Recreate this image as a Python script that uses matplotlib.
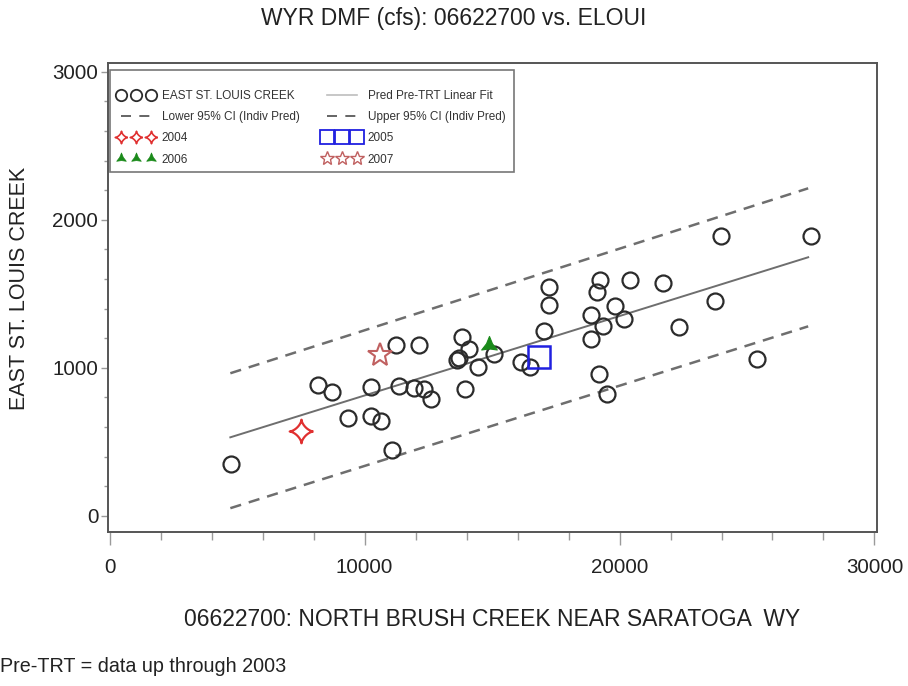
import numpy as np
import matplotlib
matplotlib.use("Agg")
import matplotlib.pyplot as plt
from matplotlib.path import Path
from matplotlib.lines import Line2D
from matplotlib.patches import Rectangle

# ---------------- data ----------------
east_x = [4760, 8170, 8720, 9330, 10260, 10260, 10640, 11080, 11230, 11360,
          12150, 11920, 12320, 12600, 13810, 14110, 13620, 13700, 14430, 15060,
          13950, 16140, 16470, 17050, 17220, 17220, 19250, 19120, 20420, 19810,
          20190, 18860, 19350, 18860, 19210, 19510, 23990, 27510, 21710, 23760,
          22320, 25390]
east_y = [348, 886, 836, 661, 870, 674, 641, 443, 1152, 875,
          1157, 866, 859, 787, 1208, 1125, 1051, 1064, 1005, 1096,
          859, 1039, 1005, 1249, 1427, 1546, 1591, 1512, 1591, 1416,
          1330, 1355, 1280, 1197, 961, 826, 1891, 1889, 1573, 1451,
          1276, 1062]

y2004_x, y2004_y = [7505], [571]
y2005_x, y2005_y = [16830], [1073]
y2006_x, y2006_y = [14870], [1152]
y2007_x, y2007_y = [10620], [1089]

fit_x = [4730, 27400]
fit_y = [530, 1747]
upper_y = [963, 2213]
lower_y = [51, 1280]

x_ticks = [0, 10000, 20000, 30000]
y_ticks = [0, 1000, 2000, 3000]

title = "WYR DMF (cfs): 06622700 vs. ELOUI"
xlabel = "06622700: NORTH BRUSH CREEK NEAR SARATOGA  WY"
ylabel = "EAST ST. LOUIS CREEK"
footer = "Pre-TRT = data up through 2003"
legend_col1 = ['EAST ST. LOUIS CREEK', 'Lower 95% CI (Indiv Pred)', '2004', '2006']
legend_col2 = ['Pred Pre-TRT Linear Fit', 'Upper 95% CI (Indiv Pred)', '2005', '2007']

# ---------------- fonts ----------------
plt.rcParams['font.family'] = ['Liberation Sans', 'DejaVu Sans']

# ---------------- custom markers ----------------
t = np.linspace(0, 2 * np.pi, 200)
astroid = Path(np.column_stack([np.cos(t) ** 3, np.sin(t) ** 3]))
ang = np.pi / 2 + np.arange(6) * np.pi / 3
rad = np.array([1.0, 0.38] * 3)
tri_star = Path(np.column_stack([rad * np.cos(ang), rad * np.sin(ang)]).tolist()
                + [[0, 1.0]], closed=True)

# ---------------- figure ----------------
W, H = 908, 686
fig = plt.figure(figsize=(W / 100, H / 100), dpi=100)
ax_l, ax_t, ax_r, ax_b = 108, 63, 877, 532
ax = fig.add_axes([ax_l / W, 1 - ax_b / H, (ax_r - ax_l) / W, (ax_b - ax_t) / H])
aw, ah = ax_r - ax_l, ax_b - ax_t


def axfrac(px, py):
    return ((px - ax_l) / aw, (ax_b - py) / ah)


gray = '#6e6e6e'
ax.plot(fit_x, fit_y, color=gray, lw=1.4, zorder=2)
ax.plot(fit_x, upper_y, color=gray, lw=1.8, ls=(0, (4.5, 3.2)), zorder=2)
ax.plot(fit_x, lower_y, color=gray, lw=1.8, ls=(0, (4.5, 3.2)), zorder=2)

ax.plot(east_x, east_y, ls='none', marker='o', ms=11.5, mfc='none',
        mec='#2b2b2b', mew=1.6, zorder=3)
ax.plot(y2004_x, y2004_y, ls='none', marker=astroid, ms=17, mfc='none',
        mec='#e03030', mew=1.6, zorder=4)
ax.plot(y2005_x, y2005_y, ls='none', marker='s', ms=16.5, mfc='none',
        mec='#2020e0', mew=1.8, zorder=4)
ax.plot(y2006_x, y2006_y, ls='none', marker=tri_star, ms=13, mfc='#1a8a1a',
        mec='#1a8a1a', mew=0.8, zorder=4)
ax.plot(y2007_x, y2007_y, ls='none', marker='*', ms=18, mfc='none',
        mec='#c06060', mew=1.5, zorder=4)

ax.set_xlim(-70, 30100)
ax.set_ylim(-110, 3060)
ax.set_xticks(x_ticks)
ax.set_yticks(y_ticks)
ax.set_xticks(np.arange(0, 30001, 2000), minor=True)
ax.set_yticks(np.arange(0, 3001, 200), minor=True)
ax.tick_params(axis='x', which='major', length=9, width=1, color='#9a9a9a',
               labelsize=14.8, pad=10, labelcolor='#222222')
ax.tick_params(axis='x', which='minor', length=6, width=1, color='#9a9a9a')
ax.tick_params(axis='y', which='major', length=5, width=1, color='#9a9a9a',
               labelsize=14.8, pad=2, labelcolor='#222222')
ax.tick_params(axis='y', which='minor', length=3, width=1, color='#9a9a9a')
for s in ax.spines.values():
    s.set_color('#555555')
    s.set_linewidth(1.4)

# ---------------- legend ----------------
h_east = Line2D([], [], ls='none', marker='o', ms=8.2, mfc='none', mec='#2b2b2b', mew=1.3)
h_fit = Line2D([], [], color='#bdbdbd', lw=1.2)
h_low = Line2D([], [], color='#4a4a4a', lw=1.2, ls=(0, (6, 5)))
h_up = Line2D([], [], color='#4a4a4a', lw=1.2, ls=(0, (6, 5)))
h04 = Line2D([], [], ls='none', marker=astroid, ms=9, mfc='none', mec='#e03030', mew=1.2)
h05 = Line2D([], [], ls='none', marker='s', ms=10, mfc='none', mec='#2020e0', mew=1.3)
h06 = Line2D([], [], ls='none', marker=tri_star, ms=8, mfc='#1a8a1a', mec='#1a8a1a', mew=0.5)
h07 = Line2D([], [], ls='none', marker='*', ms=10, mfc='none', mec='#c06060', mew=1.0)

leg_kw = dict(loc='upper left', borderaxespad=0, borderpad=0, frameon=False,
              fontsize=8.5, numpoints=3, handlelength=3.2, handletextpad=0.6,
              labelspacing=0.78)
leg1 = ax.legend([h_east, h_low, h04, h06], legend_col1,
                 bbox_to_anchor=axfrac(117, 90), **leg_kw)
ax.add_artist(leg1)
leg2 = ax.legend([h_fit, h_up, h05, h07], legend_col2,
                 bbox_to_anchor=axfrac(323, 90), **leg_kw)
for lg in (leg1, leg2):
    for txt in lg.get_texts():
        txt.set_color('#333333')
x0, y0 = axfrac(110, 172)
x1, y1 = axfrac(514, 70)
ax.add_patch(Rectangle((x0, y0), x1 - x0, y1 - y0, transform=ax.transAxes,
                       fill=False, edgecolor='#777777', lw=1.2, zorder=5))

# ---------------- texts ----------------
fig.text(0.5, 1 - 18 / H, title, ha='center', va='center', fontsize=16.5,
         color='#222222')
fig.text(492.5 / W, 1 - 620 / H, xlabel, ha='center', va='center',
         fontsize=16.5, color='#222222')
fig.text(20 / W, 1 - 288 / H, ylabel, ha='center', va='center',
         rotation=90, fontsize=15.5, color='#222222')
fig.text(0.0, 1 - 667 / H, footer, ha='left', va='center', fontsize=14.2,
         color='#222222')

fig.savefig('out.png', dpi=100)
